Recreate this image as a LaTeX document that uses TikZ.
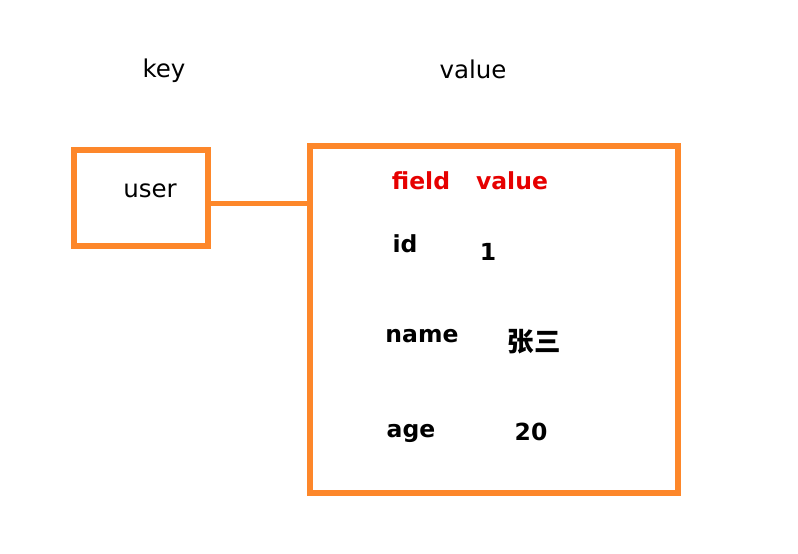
\documentclass[tikz,border=0pt]{standalone}
\usepackage{fontspec}
\setmainfont{DejaVu Sans}
\newfontfamily\cjk{Noto Sans CJK SC}
\definecolor{boxorange}{RGB}{253,135,42}
\definecolor{hdred}{RGB}{230,0,0}
\begin{document}
\begin{tikzpicture}[x=1pt,y=-1pt,
  frame/.style={draw=boxorange,line width=6.5pt},
  lbl/.style={anchor=base,inner sep=0pt,font=\fontsize{24.5}{24}\selectfont},
  bl/.style={anchor=base,inner sep=0pt,font=\fontsize{23.5}{24}\selectfont\bfseries},
  hd/.style={bl,text=hdred}]
\useasboundingbox (0,0) rectangle (798,554);
\node[frame,minimum width=134pt,minimum height=96pt,inner sep=0pt] (keybox) at (141,198) {};
\node[frame,minimum width=368pt,minimum height=347pt,inner sep=0pt] (valbox) at (494,319.5) {};
\draw[boxorange,line width=5pt] (keybox.east |- 0,203) -- (valbox.west |- 0,203);
\node[lbl] (key) at (164,77) {key};
\node[lbl] (valuehd) at (473,78) {value};
\node[lbl] (user) at (150,197) {user};
\node[hd] (field) at (421,189) {field};
\node[hd] (value) at (512,189) {value};
\node[bl] (id) at (405,252) {id};
\node[bl] (one) at (488,260) {1};
\node[bl] (name) at (422,342) {name};
\node[bl,font=\cjk\fontsize{26.5}{26}\selectfont\bfseries] (zs) at (534,351) {张三};
\node[bl] (age) at (411,437) {age};
\node[bl] (twenty) at (531,440) {20};
\end{tikzpicture}
\end{document}
